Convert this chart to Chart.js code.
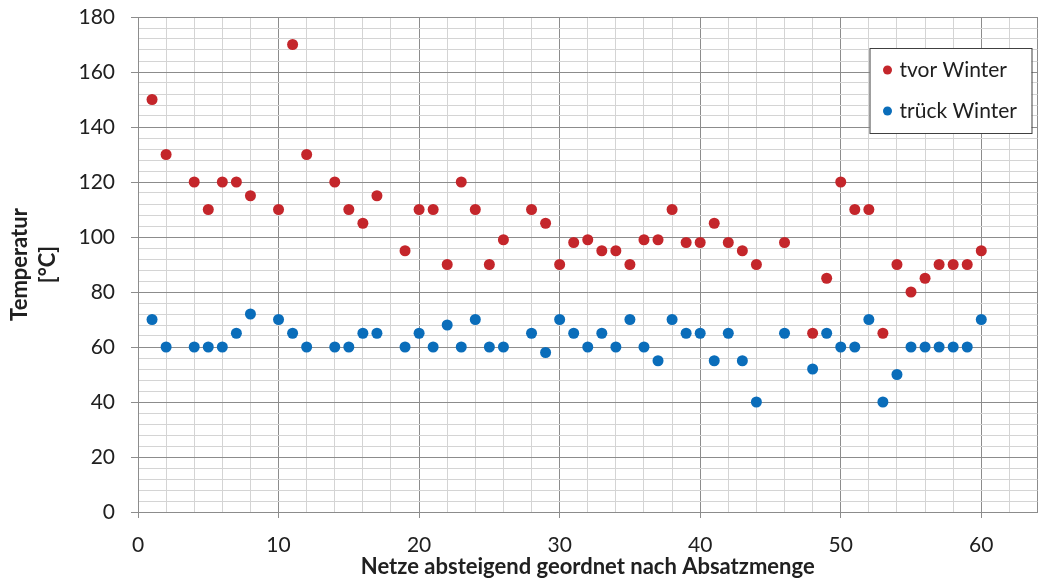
<!DOCTYPE html>
<html>
<head>
    <title>Temperatur Winter</title>
    <script src="https://cdn.jsdelivr.net/npm/chart.js@4.4.0/dist/chart.umd.min.js"></script>
    <style>
        body {
            margin: 0;
            padding: 0;
            background: white;
            overflow: hidden;
        }
        canvas {
            display: block;
        }
    </style>
</head>
<body>
    <canvas id="tempChart" width="1043" height="581"></canvas>

    <script>
        // Netze (x) and temperatures
        const netze = [1, 2, 4, 5, 6, 7, 8, 10, 11, 12, 14, 15, 16, 17, 19, 20, 21, 22, 23, 24,
                       25, 26, 28, 29, 30, 31, 32, 33, 34, 35, 36, 37, 38, 39, 40, 41, 42, 43, 44,
                       46, 48, 49, 50, 51, 52, 53, 54, 55, 56, 57, 58, 59, 60];
        const tvorWinter = [150, 130, 120, 110, 120, 120, 115, 110, 170, 130, 120, 110, 105, 115, 95, 110, 110, 90, 120, 110,
                            90, 99, 110, 105, 90, 98, 99, 95, 95, 90, 99, 99, 110, 98, 98, 105, 98, 95, 90,
                            98, 65, 85, 120, 110, 110, 65, 90, 80, 85, 90, 90, 90, 95];
        const trueckWinter = [70, 60, 60, 60, 60, 65, 72, 70, 65, 60, 60, 60, 65, 65, 60, 65, 60, 68, 60, 70,
                              60, 60, 65, 58, 70, 65, 60, 65, 60, 70, 60, 55, 70, 65, 65, 55, 65, 55, 40,
                              65, 52, 65, 60, 60, 70, 40, 50, 60, 60, 60, 60, 60, 70];
        const seriesNames = ['tvor Winter', 'trück Winter'];

        const redColor = '#C4262B';
        const blueColor = '#0A6DBA';
        const fontName = 'Lato, "DejaVu Sans", sans-serif';

        function toPoints(vals) {
            return netze.map((n, i) => ({ x: n, y: vals[i] }));
        }

        // legend drawn as a framed box inside the plot, like the original
        const boxLegend = {
            id: 'boxLegend',
            afterDraw(chart) {
                const c = chart.ctx;
                const area = chart.chartArea;
                const x0 = area.right - 168, y0 = 48, w = 162, h = 85;
                c.save();
                c.fillStyle = 'white';
                c.fillRect(x0, y0, w, h);
                c.strokeStyle = '#404040';
                c.lineWidth = 1;
                c.strokeRect(x0 + 0.5, y0 + 0.5, w, h);
                c.font = '21px ' + fontName;
                c.textBaseline = 'middle';
                chart.data.datasets.forEach((ds, i) => {
                    const cy = y0 + 22 + i * 41;
                    c.fillStyle = ds.backgroundColor;
                    c.beginPath();
                    c.arc(x0 + 18, cy, 4.5, 0, Math.PI * 2);
                    c.fill();
                    c.fillStyle = '#202020';
                    c.fillText(ds.label, x0 + 30, cy);
                });
                c.restore();
            }
        };

        const chart = new Chart(document.getElementById('tempChart'), {
            type: 'scatter',
            data: {
                datasets: [
                    {
                        label: seriesNames[0],
                        data: toPoints(tvorWinter),
                        backgroundColor: redColor,
                        borderColor: redColor,
                        pointRadius: 5.5,
                        borderWidth: 0
                    },
                    {
                        label: seriesNames[1],
                        data: toPoints(trueckWinter),
                        backgroundColor: blueColor,
                        borderColor: blueColor,
                        pointRadius: 5.5,
                        borderWidth: 0
                    }
                ]
            },
            options: {
                responsive: false,
                animation: false,
                layout: {
                    padding: { top: 17, right: 3, left: 0, bottom: 0 }
                },
                plugins: {
                    legend: { display: false },
                    tooltip: { enabled: false }
                },
                scales: {
                    x: {
                        type: 'linear',
                        min: 0,
                        max: 64,
                        afterFit: (scale) => {
                            scale.height = 69;
                            scale.paddingLeft = 0;
                            scale.paddingRight = 0;
                        },
                        ticks: {
                            stepSize: 2,
                            autoSkip: false,
                            maxRotation: 0,
                            padding: 15,
                            color: '#202020',
                            font: { family: fontName, size: 21 },
                            callback: (v) => (v % 10 === 0 ? v : '')
                        },
                        grid: {
                            color: (ctx) => (ctx.tick && (ctx.tick.value % 10 === 0 || ctx.tick.value === 64) ? '#8c8c8c' : '#d4d4d4'),
                            tickColor: (ctx) => (ctx.tick && ctx.tick.value % 10 === 0 ? '#8c8c8c' : 'rgba(0,0,0,0)'),
                            tickLength: 6,
                            lineWidth: 1
                        },
                        border: { color: '#8c8c8c' },
                        title: {
                            display: true,
                            text: 'Netze absteigend geordnet nach Absatzmenge',
                            color: '#202020',
                            font: { family: fontName, size: 22, weight: 'bold' },
                            padding: { top: 0, bottom: 1 }
                        }
                    },
                    y: {
                        min: 0,
                        max: 180,
                        afterFit: (scale) => {
                            scale.width = 138;
                            scale.paddingTop = 0;
                            scale.paddingBottom = 0;
                        },
                        ticks: {
                            stepSize: 4,
                            autoSkip: false,
                            padding: 16,
                            color: '#202020',
                            font: { family: fontName, size: 21 },
                            callback: (v) => (v % 20 === 0 ? v : '')
                        },
                        grid: {
                            color: (ctx) => (ctx.tick && ctx.tick.value % 20 === 0 ? '#8c8c8c' : '#d4d4d4'),
                            tickColor: (ctx) => (ctx.tick && ctx.tick.value % 20 === 0 ? '#8c8c8c' : 'rgba(0,0,0,0)'),
                            tickLength: 7,
                            lineWidth: 1
                        },
                        border: { color: '#8c8c8c' },
                        title: {
                            display: true,
                            text: ['Temperatur', '[°C]'],
                            color: '#202020',
                            font: { family: fontName, size: 22, weight: 'bold', lineHeight: 1.27 },
                            padding: { top: 6, bottom: 0 }
                        }
                    }
                }
            },
            plugins: [boxLegend]
        });
    </script>
</body>
</html>
